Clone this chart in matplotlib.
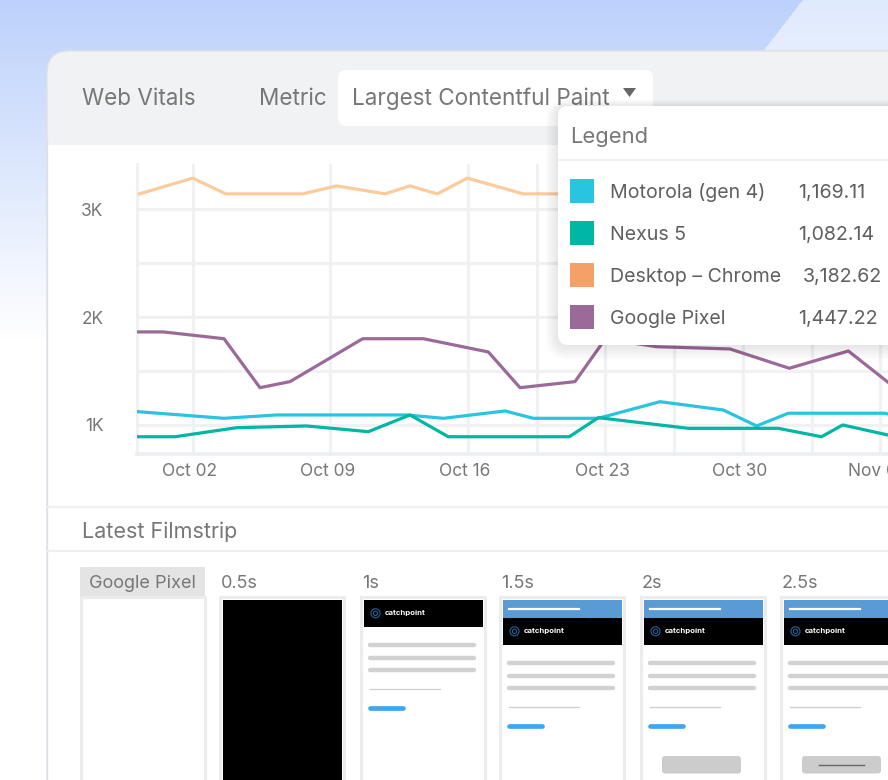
import numpy as np
import matplotlib
matplotlib.use('Agg')
import matplotlib.pyplot as plt
from matplotlib.patches import FancyBboxPatch, Rectangle, Polygon, Circle
from matplotlib.transforms import ScaledTranslation

plt.rcParams['font.family'] = ['Inter', 'DejaVu Sans']

# x values are days of October (Nov 06 = 37)
tick_days = [2, 9, 16, 23, 30, 37]
tick_labels = ['Oct 02', 'Oct 09', 'Oct 16', 'Oct 23', 'Oct 30', 'Nov 06']
minor_days = [19.5, 26.5, 33.5]
y_ticks = [1000, 1500, 2000, 2500, 3000]
y_labels = ['1K', '', '2K', '', '3K']

motorola_days = [-0.78, 3.58, 6.26, 12.88, 14.75, 17.89, 19.33, 22.64, 25.78, 29.0, 30.7, 32.31, 37.23, 37.6]
motorola_vals = [1123, 1062, 1093, 1093, 1062, 1130, 1062, 1062, 1216, 1139, 991, 1109, 1109, 1093]

nexus_days = [-0.78, 1.08, 4.23, 7.79, 10.93, 13.05, 15.0, 21.16, 22.64, 27.22, 31.8, 34.0, 35.08, 37.39]
nexus_vals = [891, 891, 975, 991, 938, 1093, 891, 891, 1068, 969, 969, 891, 1000, 907]

desktop_days = [-0.73, 1.99, 3.67, 7.59, 9.32, 11.78, 13.05, 14.44, 15.97, 18.82, 20.6, 23.0, 25.5, 28.0, 31.0, 34.0, 37.4]
desktop_vals = [3143, 3289, 3143, 3143, 3217, 3143, 3217, 3143, 3289, 3143, 3143, 3217, 3143, 3143, 3289, 3143, 3143]

pixel_days = [-0.78, 0.49, 3.58, 5.41, 6.94, 10.64, 13.73, 17.04, 18.65, 21.45, 23.0, 25.6, 29.34, 32.36, 35.37, 37.39]
pixel_vals = [1863, 1863, 1800, 1346, 1402, 1800, 1800, 1677, 1346, 1402, 1800, 1726, 1705, 1526, 1686, 1396]

series_names = ['Motorola (gen 4)', 'Nexus 5', 'Desktop \u2013 Chrome', 'Google Pixel']
series_totals = ['1,169.11', '1,082.14', '3,182.62', '1,447.22']
series_colors = ['#29c4e0', '#00b6a4', '#f4a068', '#9b6a98']
line_colors = ['#29c4e0', '#00b6a4', '#fbcb9c', '#9b6a98']
series_days = [motorola_days, nexus_days, desktop_days, pixel_days]
series_vals = [motorola_vals, nexus_vals, desktop_vals, pixel_vals]

frame_labels = ['Google Pixel', '0.5s', '1s', '1.5s', '2s', '2.5s']

W, H = 888, 780
TXT = '#777777'
GRID = '#f0f1f3'

fig = plt.figure(figsize=(W / 100, H / 100), dpi=100)


def rbox(ax, x, y, w, h, r, fc, ec='none', lw=0, z=1, alpha=1):
    p = FancyBboxPatch((x, y), w, h, boxstyle=f'round,pad=0,rounding_size={r}',
                       fc=fc, ec=ec, lw=lw, zorder=z, alpha=alpha)
    ax.add_patch(p)
    return p


def page_axes(z):
    a = fig.add_axes([0, 0, 1, 1], zorder=z)
    a.set_xlim(0, W)
    a.set_ylim(H, 0)
    a.axis('off')
    a.patch.set_alpha(0)
    return a


# background gradient + card
ax_bg = page_axes(0)
yy, xx = np.mgrid[0:H, 0:W]
top = np.array([188, 209, 251]) / 255
t = np.clip(yy / 340.0, 0, 1)[..., None]
bg = top * (1 - t) + t
light = xx > (801 - 0.77 * yy)
bg[light] = bg[light] * 0.45 + 0.55
ax_bg.imshow(bg, extent=(0, W, H, 0), aspect='auto', interpolation='bilinear', zorder=0)

rbox(ax_bg, 47, 51, 1000, 900, 22, 'white', '#dde1e7', 1, z=1)
rbox(ax_bg, 47, 51, 1000, 160, 22, '#f1f2f4', '#dde1e7', 1, z=2)
ax_bg.add_patch(Rectangle((47.6, 145), 1000, 700, fc='white', ec='none', zorder=3))
ax_bg.plot([47, 47], [140, 780], color='#dde1e7', lw=1, zorder=4)

ax_bg.text(82, 99, 'Web Vitals', fontsize=16.2, color=TXT, va='center', zorder=5)
ax_bg.text(259, 99, 'Metric', fontsize=16.2, color=TXT, va='center', zorder=5)
rbox(ax_bg, 338, 70, 315, 56, 8, 'white', z=5)
ax_bg.text(352, 99, 'Largest Contentful Paint', fontsize=16.2, color=TXT, va='center', zorder=6)
ax_bg.add_patch(Polygon([(623, 88), (636, 88), (629.5, 97)], closed=True, fc='#666666', zorder=6))

# separators and filmstrip section
for sy in [507, 551]:
    ax_bg.plot([48, W], [sy, sy], color='#eef0f2', lw=1.6, zorder=5)
ax_bg.text(82, 532, 'Latest Filmstrip', fontsize=15.5, color=TXT, va='center', zorder=6)

# chart
px_day = 19.64
x_org = 153.7
xlo, xhi = -0.85, 38.5
ylo, yhi = 731, 3420
cx0, cx1 = x_org + xlo * px_day, x_org + xhi * px_day
cy0, cy1 = 164, 454
ax = fig.add_axes([cx0 / W, 1 - cy1 / H, (cx1 - cx0) / W, (cy1 - cy0) / H], zorder=1)
ax.patch.set_alpha(0)
ax.set_xlim(xlo, xhi)
ax.set_ylim(ylo, yhi)
ax.set_xticks(tick_days)
ax.set_xticklabels(tick_labels)
ax.set_xticks(minor_days, minor=True)
ax.set_yticks(y_ticks)
ax.set_yticklabels(y_labels)
ax.grid(True, which='both', color=GRID, lw=2.2)
ax.set_axisbelow(True)
ax.tick_params(axis='both', which='both', length=0, labelsize=12.5, labelcolor=TXT)
ax.tick_params(axis='x', pad=6.5)
ax.tick_params(axis='y', pad=24)
shift = ScaledTranslation(-3 / 100, 0, fig.dpi_scale_trans)
for lab in ax.get_xticklabels():
    lab.set_transform(lab.get_transform() + shift)
for s in ['top', 'right']:
    ax.spines[s].set_visible(False)
ax.spines['left'].set_color(GRID)
ax.spines['left'].set_linewidth(2.2)
ax.spines['bottom'].set_color('#eceef1')
ax.spines['bottom'].set_linewidth(2.6)
for d, v, c in zip(series_days, series_vals, line_colors):
    ax.plot(d, v, color=c, lw=2.3, solid_joinstyle='round', zorder=3)

# legend overlay
ax_top = page_axes(3)
for i in range(1, 9):
    rbox(ax_top, 558 - i * 1.5, 106 - i * 0.8, 400 + i * 3, 239 + i * 2.6, 10 + i * 1.5,
         'black', z=1, alpha=0.012)
rbox(ax_top, 558, 106, 400, 239, 10, 'white', z=2)
ax_top.text(570, 137, 'Legend', fontsize=15.8, color=TXT, va='center', zorder=3)
ax_top.plot([558, W], [159.5, 159.5], color='#eeeeee', lw=1.2, zorder=3)
row_y = [191, 233, 275, 317]
for ry, name, val, col in zip(row_y, series_names, series_totals, series_colors):
    ax_top.add_patch(Rectangle((570, ry - 12), 24, 24, fc=col, ec='none', zorder=3))
    ax_top.text(610, ry + 2, name, fontsize=14.1, color='#5f5f5f', va='center', zorder=3)
    vx = 803 if val.startswith('3') else 798
    ax_top.text(vx, ry + 2, val, fontsize=14.1, color='#5f5f5f', va='center', zorder=3)

# filmstrip frames
frame_x = [81, 220, 361, 500, 641, 781]
fw = 124
ftop = 597
rbox(ax_top, 80, 567, 125, 30, 1, '#e4e4e4', z=2)
for i, (fx, lab) in enumerate(zip(frame_x, frame_labels)):
    lx = fx + 8 if i == 0 else fx + 1
    ax_top.text(lx, 584, lab, fontsize=13, color=TXT, va='center', zorder=4)
    ax_top.add_patch(Rectangle((fx, ftop), fw, 300, fc='white', ec='#ececec', lw=2.2, zorder=2))
    ix0, ix1 = fx + 2.5, fx + fw - 2.5
    if i == 1:
        ax_top.add_patch(Rectangle((ix0, ftop + 2.5), ix1 - ix0, 300, fc='black', zorder=3))
    if i < 2:
        continue
    off = 0 if i == 2 else 18
    if i > 2:
        ax_top.add_patch(Rectangle((ix0, ftop + 2.5), ix1 - ix0, 18, fc='#5b9bd5', zorder=3))
        ax_top.plot([fx + 9, fx + 79], [609, 609], color='white', lw=1.6, zorder=4)
    ax_top.add_patch(Rectangle((ix0, ftop + 2.5 + off), ix1 - ix0, 27.4, fc='black', zorder=3))
    ly = 613.3 + off
    ax_top.add_patch(Circle((fx + 14.5, ly), 4.5, fc='none', ec='#1e5a93', lw=0.9, zorder=4))
    ax_top.add_patch(Circle((fx + 14.5, ly), 2.2, fc='none', ec='#2a78b8', lw=0.6, zorder=4))
    ax_top.text(fx + 24, ly, 'catchpoint', fontsize=5.6, color='white', fontweight='bold',
                va='center', zorder=4)
    for gy in [645, 657.7, 670]:
        ax_top.plot([fx + 8.5, fx + 113], [gy + off, gy + off], color='#d2d2d2', lw=3.2,
                    solid_capstyle='round', zorder=4)
    ax_top.plot([fx + 8.5, fx + 78.5], [689 + off, 689 + off], color='#cdcdcd', lw=0.9, zorder=4)
    ax_top.plot([fx + 9, fx + 42], [707.7 + off, 707.7 + off], color='#3ea7f2', lw=3.4,
                solid_capstyle='round', zorder=4)
    if i >= 4:
        rbox(ax_top, fx + 21, 756, 79, 17.5, 3, '#cccccc', z=4)
        if i == 5:
            ax_top.plot([fx + 38, fx + 82.5], [764.5, 764.5], color='#666666', lw=1, zorder=5)

fig.savefig('out.png', dpi=100)
